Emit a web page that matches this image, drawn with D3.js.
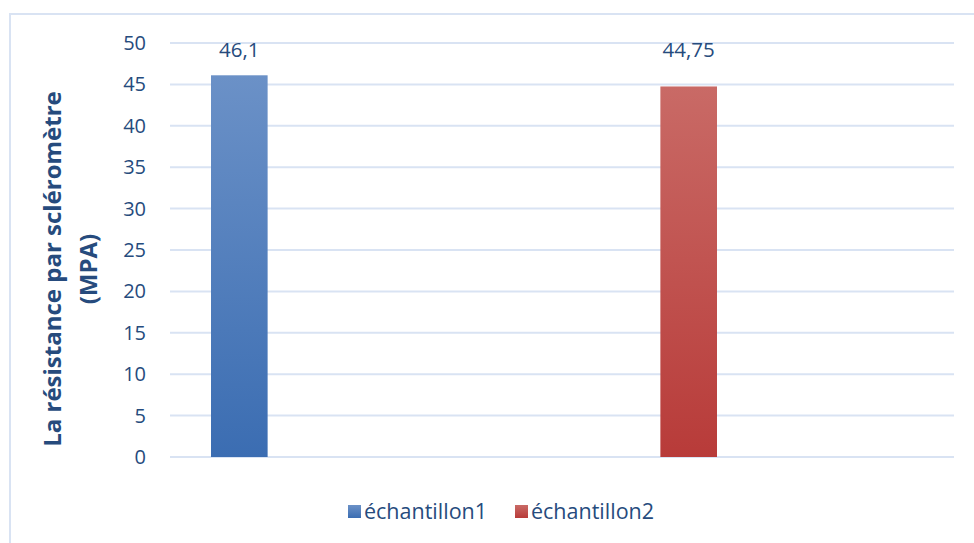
<!DOCTYPE html>
<html><head><meta charset="utf-8">
<script src="https://cdn.jsdelivr.net/npm/d3@7"></script>
<style>body{margin:0;background:#fff;}svg{display:block;font-family:"Open Sans",sans-serif;}</style>
</head><body>
<svg id="c" width="974" height="543"></svg>
<script>
const series = ["échantillon1", "échantillon2"];
const values = [46.1, 44.75];
const valueLabels = ["46,1", "44,75"];
const yTicks = [0, 5, 10, 15, 20, 25, 30, 35, 40, 45, 50];
const yTitle = ["La résistance par scléromètre", "(MPA)"];
const colors = [["#6b91c7", "#3b6db2"], ["#c96a66", "#b83b39"]];

const svg = d3.select("#c");
const txt = "#264b7d";

// chart border
svg.append("rect").attr("x", 10).attr("y", 14).attr("width", 980).attr("height", 560)
  .attr("fill", "none").attr("stroke", "#d9e3f3").attr("stroke-width", 2);

const defs = svg.append("defs");
colors.forEach((c, i) => {
  const g = defs.append("linearGradient").attr("id", "g" + i).attr("x1", 0).attr("y1", 0).attr("x2", 0).attr("y2", 1);
  g.append("stop").attr("offset", "0%").attr("stop-color", c[0]);
  g.append("stop").attr("offset", "100%").attr("stop-color", c[1]);
});

const y = d3.scaleLinear().domain([0, 50]).range([457, 43]);
const x = d3.scaleBand().domain(series).range([211, 717]).paddingInner(0.874).paddingOuter(0);
const plotLeft = 170, plotRight = 954;

// gridlines
svg.append("g").selectAll("line").data(yTicks).join("line")
  .attr("x1", plotLeft).attr("x2", plotRight)
  .attr("y1", d => y(d)).attr("y2", d => y(d))
  .attr("stroke", "#d9e3f3").attr("stroke-width", 2);

// y axis labels
const yAxis = d3.axisLeft(y).tickValues(yTicks).tickSize(0).tickPadding(0);
const ga = svg.append("g").attr("transform", `translate(146,0)`).call(yAxis);
ga.select(".domain").remove();
ga.selectAll("text").attr("fill", txt).style("font-size", "20px").style("font-family", "'Open Sans', sans-serif");

// bars
svg.append("g").selectAll("rect").data(values).join("rect")
  .attr("x", (d, i) => x(series[i])).attr("width", x.bandwidth())
  .attr("y", d => y(d)).attr("height", d => y(0) - y(d))
  .attr("fill", (d, i) => `url(#g${i})`);

// value labels (placed at a common height as in the reference)
svg.append("g").selectAll("text").data(values).join("text")
  .attr("x", (d, i) => x(series[i]) + x.bandwidth() / 2)
  .attr("y", y(49.2)).attr("dy", "0.35em")
  .attr("text-anchor", "middle").attr("fill", txt).style("font-size", "20.5px")
  .text((d, i) => valueLabels[i]);

// y title
const t = svg.append("text").attr("transform", "translate(53,269) rotate(-90)")
  .attr("text-anchor", "middle").attr("fill", txt).style("font-size", "24px").style("font-weight", "bold");
t.append("tspan").attr("x", 0).attr("dy", "0.35em").text(yTitle[0]);
t.append("tspan").attr("x", 0).attr("dy", "36px").text(yTitle[1]);

// legend
const legX = [348, 515];
const lg = svg.append("g");
series.forEach((s, i) => {
  lg.append("rect").attr("x", legX[i]).attr("y", 505).attr("width", 13).attr("height", 13).attr("fill", `url(#g${i})`);
  lg.append("text").attr("x", legX[i] + 16).attr("y", 511).attr("dy", "0.35em")
    .attr("fill", txt).style("font-size", "21.5px").text(s);
});
</script>
</body></html>
